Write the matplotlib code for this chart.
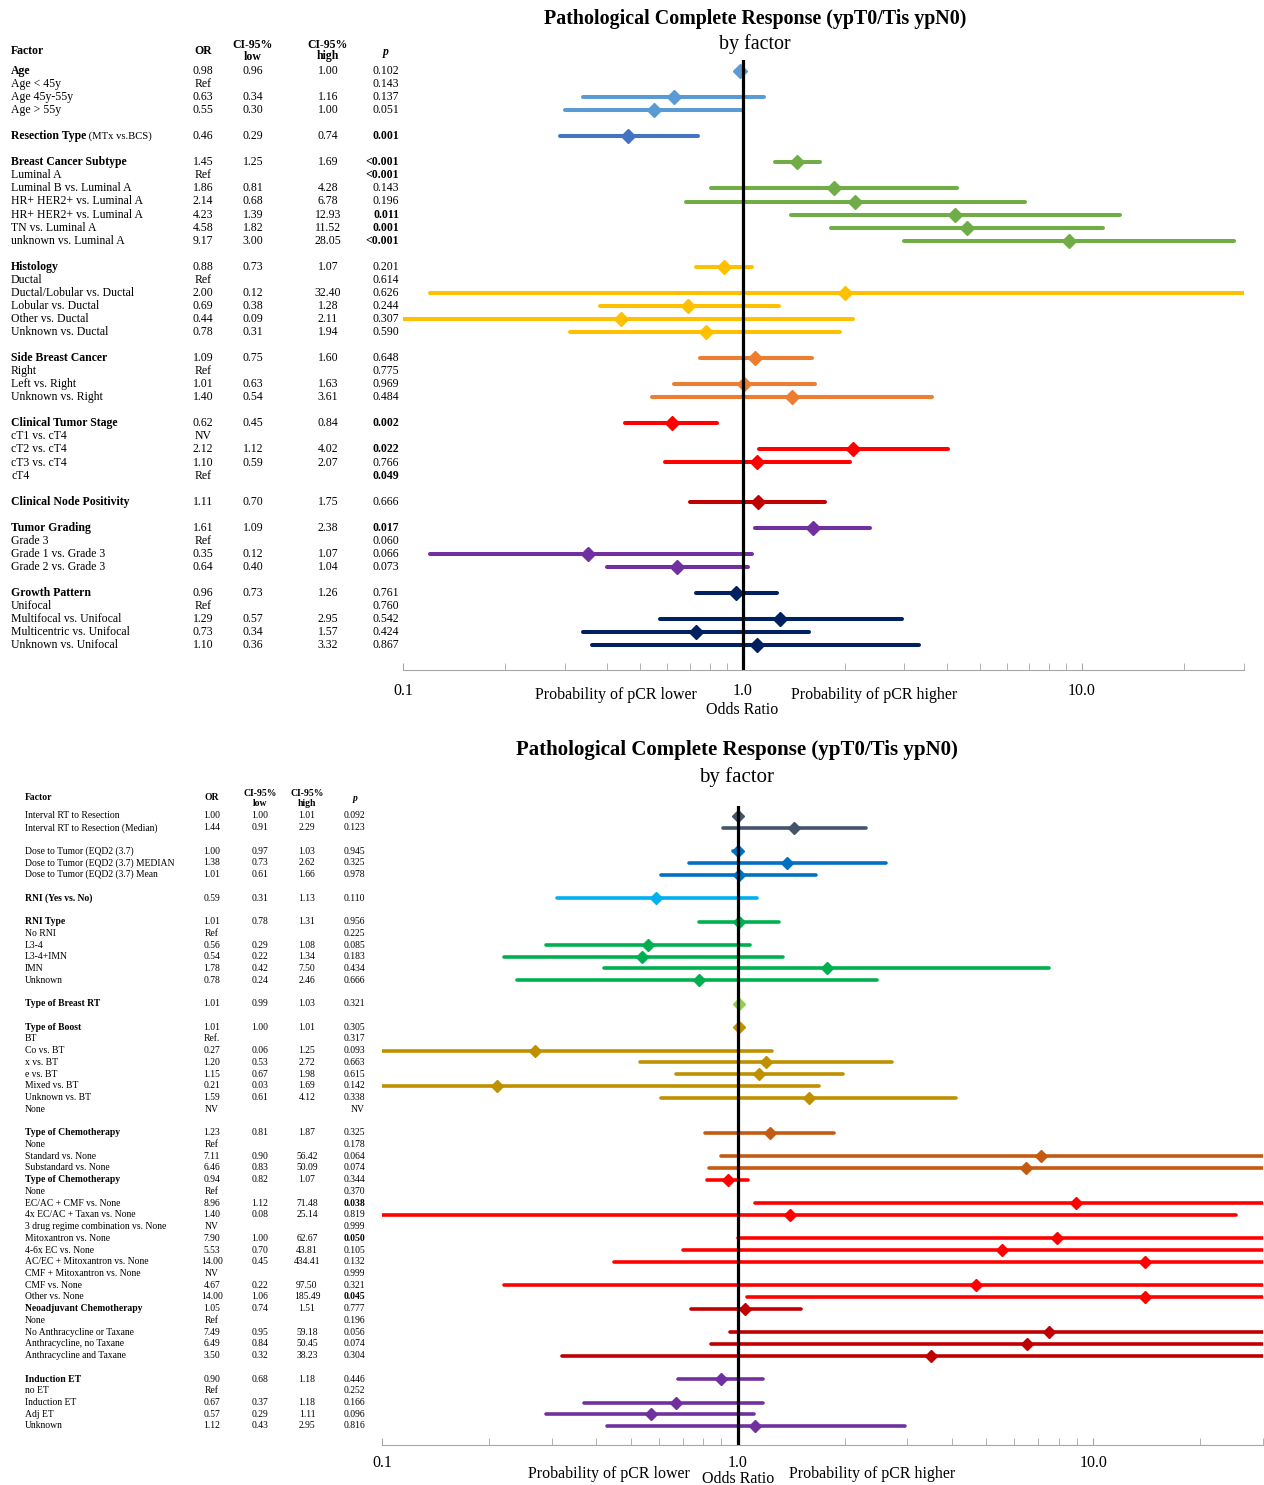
import numpy as np
import matplotlib
matplotlib.use('Agg')
import matplotlib.pyplot as plt
from matplotlib import transforms
from matplotlib.ticker import LogLocator, NullFormatter

plt.rcParams['font.family'] = ['Liberation Serif', 'DejaVu Serif']

W, H = 1264, 1485

# ---- upper chart: table values ----
top_labels = ["Age", "Age < 45y", "Age 45y-55y", "Age > 55y", "",
              "Resection Type", "",
              "Breast Cancer Subtype", "Luminal A", "Luminal B vs. Luminal A",
              "HR+ HER2+ vs. Luminal A", "HR+ HER2+ vs. Luminal A",
              "TN vs. Luminal A", "unknown vs. Luminal A", "",
              "Histology", "Ductal", "Ductal/Lobular vs. Ductal", "Lobular vs. Ductal",
              "Other vs. Ductal", "Unknown vs. Ductal", "",
              "Side Breast Cancer", "Right", "Left vs. Right", "Unknown vs. Right", "",
              "Clinical Tumor Stage", "cT1 vs. cT4", "cT2 vs. cT4", "cT3 vs. cT4", "cT4", "",
              "Clinical Node Positivity", "",
              "Tumor Grading", "Grade 3", "Grade 1 vs. Grade 3", "Grade 2 vs. Grade 3", "",
              "Growth Pattern", "Unifocal", "Multifocal vs. Unifocal",
              "Multicentric vs. Unifocal", "Unknown vs. Unifocal"]
top_or = ["0.98", "Ref", "0.63", "0.55", "", "0.46", "", "1.45", "Ref", "1.86", "2.14",
          "4.23", "4.58", "9.17", "", "0.88", "Ref", "2.00", "0.69", "0.44", "0.78", "",
          "1.09", "Ref", "1.01", "1.40", "", "0.62", "NV", "2.12", "1.10", "Ref", "",
          "1.11", "", "1.61", "Ref", "0.35", "0.64", "", "0.96", "Ref", "1.29", "0.73", "1.10"]
top_lo = ["0.96", "", "0.34", "0.30", "", "0.29", "", "1.25", "", "0.81", "0.68",
          "1.39", "1.82", "3.00", "", "0.73", "", "0.12", "0.38", "0.09", "0.31", "",
          "0.75", "", "0.63", "0.54", "", "0.45", "", "1.12", "0.59", "", "",
          "0.70", "", "1.09", "", "0.12", "0.40", "", "0.73", "", "0.57", "0.34", "0.36"]
top_hi = ["1.00", "", "1.16", "1.00", "", "0.74", "", "1.69", "", "4.28", "6.78",
          "12.93", "11.52", "28.05", "", "1.07", "", "32.40", "1.28", "2.11", "1.94", "",
          "1.60", "", "1.63", "3.61", "", "0.84", "", "4.02", "2.07", "", "",
          "1.75", "", "2.38", "", "1.07", "1.04", "", "1.26", "", "2.95", "1.57", "3.32"]
top_p = ["0.102", "0.143", "0.137", "0.051", "", "0.001", "", "<0.001", "<0.001", "0.143",
         "0.196", "0.011", "0.001", "<0.001", "", "0.201", "0.614", "0.626", "0.244", "0.307",
         "0.590", "", "0.648", "0.775", "0.969", "0.484", "", "0.002", "", "0.022", "0.766",
         "0.049", "", "0.666", "", "0.017", "0.060", "0.066", "0.073", "", "0.761", "0.760",
         "0.542", "0.424", "0.867"]
top_bold = [0, 5, 7, 15, 22, 27, 33, 35, 40]
top_bold_p = [5, 7, 8, 11, 12, 13, 27, 29, 31, 35]
top_suffix = {5: " (MTx vs.BCS)"}

# ---- lower chart: table values ----
bot_labels = ["Interval RT to Resection", "Interval RT to Resection (Median)", "",
              "Dose to Tumor (EQD2 (3.7)", "Dose to Tumor (EQD2 (3.7) MEDIAN",
              "Dose to Tumor (EQD2 (3.7) Mean", "",
              "RNI (Yes vs. No)", "",
              "RNI Type", "No RNI", "L3-4", "L3-4+IMN", "IMN", "Unknown", "",
              "Type of Breast RT", "",
              "Type of Boost", "BT", "Co vs. BT", "x vs. BT", "e vs. BT", "Mixed vs. BT",
              "Unknown vs. BT", "None", "",
              "Type of Chemotherapy", "None", "Standard vs. None", "Substandard vs. None",
              "Type of Chemotherapy", "None", "EC/AC + CMF vs. None",
              "4x EC/AC + Taxan vs. None", "3 drug regime combination vs. None",
              "Mitoxantron vs. None", "4-6x EC vs. None", "AC/EC + Mitoxantron vs. None",
              "CMF + Mitoxantron vs. None", "CMF vs. None", "Other vs. None",
              "Neoadjuvant Chemotherapy", "None", "No Anthracycline or Taxane",
              "Anthracycline, no Taxane", "Anthracycline and Taxane", "",
              "Induction ET", "no ET", "Induction ET", "Adj ET", "Unknown"]
bot_or = ["1.00", "1.44", "", "1.00", "1.38", "1.01", "", "0.59", "", "1.01", "Ref", "0.56",
          "0.54", "1.78", "0.78", "", "1.01", "", "1.01", "Ref.", "0.27", "1.20", "1.15",
          "0.21", "1.59", "NV", "", "1.23", "Ref", "7.11", "6.46", "0.94", "Ref", "8.96",
          "1.40", "NV", "7.90", "5.53", "14.00", "NV", "4.67", "14.00", "1.05", "Ref",
          "7.49", "6.49", "3.50", "", "0.90", "Ref", "0.67", "0.57", "1.12"]
bot_lo = ["1.00", "0.91", "", "0.97", "0.73", "0.61", "", "0.31", "", "0.78", "", "0.29",
          "0.22", "0.42", "0.24", "", "0.99", "", "1.00", "", "0.06", "0.53", "0.67",
          "0.03", "0.61", "", "", "0.81", "", "0.90", "0.83", "0.82", "", "1.12",
          "0.08", "", "1.00", "0.70", "0.45", "", "0.22", "1.06", "0.74", "",
          "0.95", "0.84", "0.32", "", "0.68", "", "0.37", "0.29", "0.43"]
bot_hi = ["1.01", "2.29", "", "1.03", "2.62", "1.66", "", "1.13", "", "1.31", "", "1.08",
          "1.34", "7.50", "2.46", "", "1.03", "", "1.01", "", "1.25", "2.72", "1.98",
          "1.69", "4.12", "", "", "1.87", "", "56.42", "50.09", "1.07", "", "71.48",
          "25.14", "", "62.67", "43.81", "434.41", "", "97.50", "185.49", "1.51", "",
          "59.18", "50.45", "38.23", "", "1.18", "", "1.18", "1.11", "2.95"]
bot_p = ["0.092", "0.123", "", "0.945", "0.325", "0.978", "", "0.110", "", "0.956", "0.225",
         "0.085", "0.183", "0.434", "0.666", "", "0.321", "", "0.305", "0.317", "0.093",
         "0.663", "0.615", "0.142", "0.338", "NV", "", "0.325", "0.178", "0.064", "0.074",
         "0.344", "0.370", "0.038", "0.819", "0.999", "0.050", "0.105", "0.132", "0.999",
         "0.321", "0.045", "0.777", "0.196", "0.056", "0.074", "0.304", "", "0.446",
         "0.252", "0.166", "0.096", "0.816"]
bot_bold = [7, 9, 16, 18, 27, 31, 42, 48]
bot_bold_p = [33, 36, 41]


def spread(groups):
    out = []
    for c, n in groups:
        out += [c] * n
    return out


top_colors = spread([('#5B9BD5', 4), ('', 1), ('#4472C4', 1), ('', 1), ('#70AD47', 7), ('', 1),
                     ('#FFC000', 6), ('', 1), ('#ED7D31', 4), ('', 1), ('#FF0000', 5), ('', 1),
                     ('#C00000', 1), ('', 1), ('#7030A0', 4), ('', 1), ('#002060', 5)])
bot_colors = spread([('#44546A', 2), ('', 1), ('#0070C0', 3), ('', 1), ('#00B0F0', 1), ('', 1),
                     ('#00B050', 6), ('', 1), ('#92D050', 1), ('', 1), ('#BF9000', 8), ('', 1),
                     ('#C55A11', 4), ('#FF0000', 11), ('#C00000', 5), ('', 1), ('#7030A0', 5)])


def num(s):
    try:
        return float(s)
    except ValueError:
        return np.nan


def fx(px):
    return px / W


def fy(px):
    return 1 - px / H


fig = plt.figure(figsize=(W / 100, H / 100), dpi=100, facecolor='white')


def forest(left, right, top, bottom, row0, step, labels, or_col, lo_col, hi_col, p_col,
           colors, bold_rows, bold_p, suffix, cols, fs, lw, ms, pad):
    ax = fig.add_axes([fx(left), fy(bottom), (right - left) / W, (bottom - top) / H])
    n = len(labels)
    ax.set_xscale('log')
    ax.set_xlim(0.1, 30)
    last = row0 + (n - 1) * step
    ax.set_ylim(n - 1 + (bottom - last) / step, -(row0 - top) / step)

    orv = [num(s) for s in or_col]
    lov = [num(s) for s in lo_col]
    hiv = [num(s) for s in hi_col]
    for i in range(n):
        if not np.isnan(lov[i]):
            ax.plot([lov[i], hiv[i]], [i, i], color=colors[i], lw=lw,
                    solid_capstyle='round', zorder=3)
        if not np.isnan(orv[i]):
            ax.plot([orv[i]], [i], marker='D', ms=ms, color=colors[i], ls='none', zorder=4)
    ax.axvline(1, color='black', lw=2.3, zorder=5)

    for s in ['left', 'top', 'right']:
        ax.spines[s].set_visible(False)
    ax.spines['bottom'].set_color('#A6A6A6')
    ax.set_yticks([])
    ax.set_xticks([0.1, 1, 10])
    ax.set_xticklabels(['0.1', '1.0', '10.0'])
    ax.xaxis.set_minor_locator(LogLocator(base=10, subs=np.arange(2, 10), numticks=20))
    ax.xaxis.set_minor_formatter(NullFormatter())
    ax.tick_params(which='both', direction='in', length=5, color='#A6A6A6',
                   labelsize=11.5, pad=pad)

    # table on the left
    tr = transforms.blended_transform_factory(fig.transFigure, ax.transData)
    xl, xor, xlo, xhi, xp = cols
    for i in range(n):
        if labels[i] == "":
            continue
        wt = 'bold' if i in bold_rows else 'normal'
        t = ax.text(fx(xl), i, labels[i], transform=tr, fontsize=fs, fontweight=wt,
                    va='center', ha='left')
        if i in suffix:
            ax.annotate(suffix[i], xy=(1, 0.5), xycoords=t, fontsize=fs * 0.9,
                        va='center', ha='left')
        ax.text(fx(xor), i, or_col[i], transform=tr, fontsize=fs, va='center', ha='center')
        ax.text(fx(xlo), i, lo_col[i], transform=tr, fontsize=fs, va='center', ha='center')
        ax.text(fx(xhi), i, hi_col[i], transform=tr, fontsize=fs, va='center', ha='center')
        ax.text(fx(xp), i, p_col[i], transform=tr, fontsize=fs, va='center', ha='right',
                fontweight='bold' if i in bold_p else 'normal')
    return ax


ax1 = forest(403, 1244, 60, 670, 71, 13.05, top_labels, top_or, top_lo, top_hi, top_p,
             top_colors, top_bold, top_bold_p, top_suffix,
             (11, 203, 253, 328, 399), 8.5, 2.9, 7.3, 9.5)
ax2 = forest(382, 1263, 806, 1445, 816, 11.73, bot_labels, bot_or, bot_lo, bot_hi, bot_p,
             bot_colors, bot_bold, bot_bold_p, {},
             (25, 212, 260, 307, 365), 6.9, 2.6, 6.5, 7)

# column headers
hs = 8.5
fig.text(fx(11), fy(51), 'Factor', fontsize=hs, fontweight='bold', va='center')
fig.text(fx(203), fy(51), 'OR', fontsize=hs, fontweight='bold', va='center', ha='center')
fig.text(fx(253), fy(50.5), 'CI-95%\nlow', fontsize=hs, fontweight='bold', va='center',
         ha='center', linespacing=1.0)
fig.text(fx(328), fy(50.5), 'CI-95%\nhigh', fontsize=hs, fontweight='bold', va='center',
         ha='center', linespacing=1.0)
fig.text(fx(386), fy(52), 'p', fontsize=hs, fontweight='bold', style='italic',
         va='center', ha='center')

hs = 6.9
fig.text(fx(25), fy(798), 'Factor', fontsize=hs, fontweight='bold', va='center')
fig.text(fx(212), fy(798), 'OR', fontsize=hs, fontweight='bold', va='center', ha='center')
fig.text(fx(260), fy(798.5), 'CI-95%\nlow', fontsize=hs, fontweight='bold', va='center',
         ha='center', linespacing=1.0)
fig.text(fx(307), fy(798.5), 'CI-95%\nhigh', fontsize=hs, fontweight='bold', va='center',
         ha='center', linespacing=1.0)
fig.text(fx(355), fy(799), 'p', fontsize=hs, fontweight='bold', style='italic',
         va='center', ha='center')

# titles
fig.text(fx(755), fy(19), 'Pathological Complete Response (ypT0/Tis ypN0)', fontsize=14.4,
         fontweight='bold', ha='center', va='center')
fig.text(fx(755), fy(44), 'by factor', fontsize=14.4, ha='center', va='center')
fig.text(fx(737), fy(750), 'Pathological Complete Response (ypT0/Tis ypN0)', fontsize=15,
         fontweight='bold', ha='center', va='center')
fig.text(fx(737), fy(777), 'by factor', fontsize=15, ha='center', va='center')

# axis captions
for ax, ylow, yodds in [(ax1, 695, 710), (ax2, 1474, 1479)]:
    tr = transforms.blended_transform_factory(ax.transData, fig.transFigure)
    ax.text(0.735, fy(ylow), 'Probability of pCR lower', transform=tr, fontsize=11.5,
            ha='right', va='center')
    ax.text(1.0, fy(yodds), 'Odds Ratio', transform=tr, fontsize=11.5, ha='center', va='center')
    ax.text(1.39, fy(ylow), 'Probability of pCR higher', transform=tr, fontsize=11.5,
            ha='left', va='center')

plt.savefig('out.png', dpi=100)
